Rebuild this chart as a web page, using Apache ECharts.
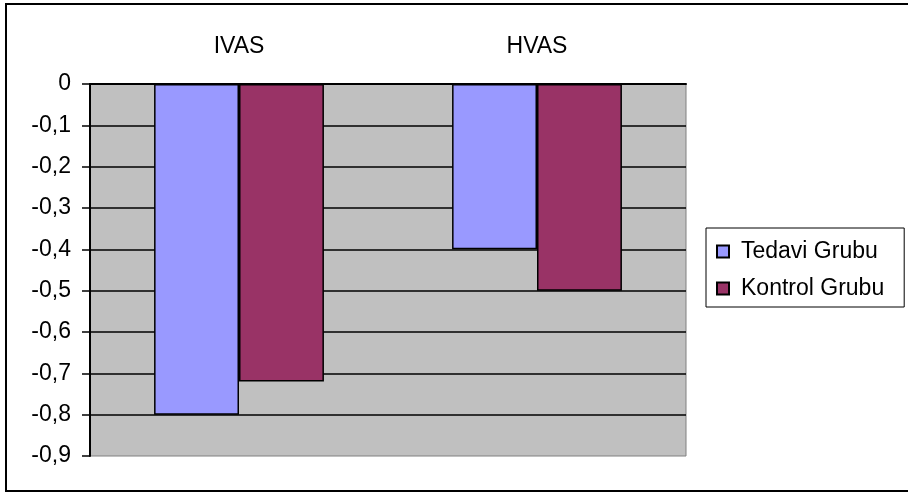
<!DOCTYPE html>
<html>
<head>
<meta charset="utf-8">
<script src="https://cdn.jsdelivr.net/npm/echarts@6/dist/echarts.min.js"></script>
<style>
  html, body { margin: 0; padding: 0; background: #fff; }
  #chart { width: 908px; height: 493px; }
</style>
</head>
<body>
<div id="chart"></div>
<script>
// data
var categories = ['IVAS', 'HVAS'];
var seriesNames = ['Tedavi Grubu', 'Kontrol Grubu'];
var tedaviValues = [-0.8, -0.4];
var kontrolValues = [-0.72, -0.5];
var yMin = -0.9;
var yMax = 0;
var yStep = 0.1;

var FONT = '"Liberation Sans", Arial, sans-serif';
var FONT_SIZE = 23;

var chart = echarts.init(document.getElementById('chart'));
chart.setOption({
    animation: false,
    backgroundColor: '#fff',
    textStyle: { fontFamily: FONT },
    // outer frame of the chart (right edge is cut off in the original)
    graphic: [
        {
            type: 'rect',
            shape: { x: 6, y: 4, width: 930, height: 487 },
            style: { fill: 'none', stroke: '#000', lineWidth: 2 },
            silent: true
        }
    ],
    grid: {
        left: 90,
        right: 222,
        top: 84,
        bottom: 37,
        show: true,
        backgroundColor: '#C0C0C0',
        borderColor: '#808080',
        borderWidth: 1
    },
    legend: {
        orient: 'vertical',
        left: 706,
        top: 228,
        padding: [12, 20, 7, 10],
        itemGap: 14,
        itemWidth: 12,
        itemHeight: 12,
        icon: 'rect',
        backgroundColor: '#fff',
        borderColor: '#000',
        borderWidth: 1,
        borderRadius: 0,
        textStyle: { fontFamily: FONT, fontSize: FONT_SIZE, color: '#000', padding: [0, 0, 0, 7], lineHeight: 23 },
        data: seriesNames
    },
    xAxis: {
        type: 'category',
        position: 'top',
        data: categories,
        axisLine: { lineStyle: { color: '#000', width: 2 } },
        axisTick: { inside: true, length: 6, lineStyle: { color: '#000', width: 2 } },
        axisLabel: { margin: 26, fontFamily: FONT, fontSize: FONT_SIZE, color: '#000' },
        splitLine: { show: false }
    },
    yAxis: {
        type: 'value',
        min: yMin,
        max: yMax,
        interval: yStep,
        axisLine: { show: true, lineStyle: { color: '#000', width: 2 } },
        axisTick: { show: true, length: 8, lineStyle: { color: '#000', width: 1.5 } },
        axisLabel: {
            margin: 19,
            fontFamily: FONT,
            fontSize: FONT_SIZE,
            color: '#000',
            formatter: function (v) {
                if (Math.abs(v) < 1e-9) return '0';
                return v.toFixed(1).replace('.', ',');
            }
        },
        splitLine: { show: true, showMinLine: false, lineStyle: { color: '#000', width: 1.5 } }
    },
    series: [
        {
            name: seriesNames[0],
            type: 'bar',
            data: tedaviValues,
            barGap: '0%',
            barCategoryGap: '43%',
            itemStyle: { color: '#9999FF', borderColor: '#000', borderWidth: 1.5 }
        },
        {
            name: seriesNames[1],
            type: 'bar',
            data: kontrolValues,
            barGap: '0%',
            barCategoryGap: '43%',
            itemStyle: { color: '#993366', borderColor: '#000', borderWidth: 1.5 }
        }
    ]
});
</script>
</body>
</html>
